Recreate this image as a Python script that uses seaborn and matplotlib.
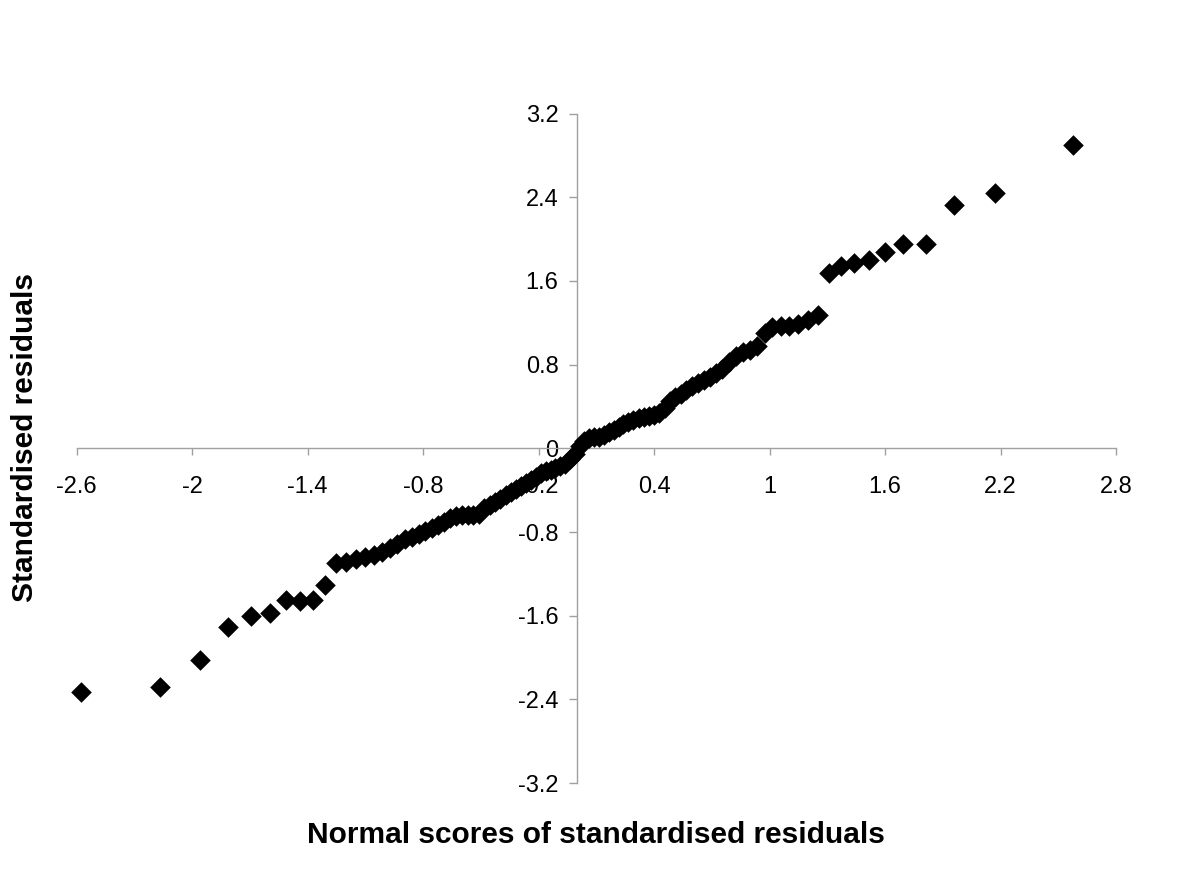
import pandas as pd
import seaborn as sns
import matplotlib.pyplot as plt

sns.set_theme(style="white")
plt.rcParams["font.family"] = ["Liberation Sans", "DejaVu Sans"]
plt.rcParams["text.color"] = "black"
plt.rcParams["xtick.color"] = "black"
plt.rcParams["ytick.color"] = "black"

# ============================
# Data
# ============================

# normal scores (x) for 100 ordered residuals
normal_scores = [
    -2.576, -2.170, -1.960, -1.812, -1.695, -1.598, -1.514, -1.440, -1.372, -1.311,
    -1.254, -1.200, -1.150, -1.103, -1.058, -1.015, -0.974, -0.935, -0.897, -0.860,
    -0.824, -0.789, -0.755, -0.723, -0.690, -0.659, -0.628, -0.598, -0.568, -0.539,
    -0.510, -0.482, -0.454, -0.426, -0.399, -0.372, -0.345, -0.319, -0.292, -0.266,
    -0.240, -0.215, -0.189, -0.164, -0.138, -0.113, -0.088, -0.063, -0.038, -0.013,
    0.013, 0.038, 0.063, 0.088, 0.113, 0.138, 0.164, 0.189, 0.215, 0.240,
    0.266, 0.292, 0.319, 0.345, 0.372, 0.399, 0.426, 0.454, 0.482, 0.510,
    0.539, 0.568, 0.598, 0.628, 0.659, 0.690, 0.723, 0.755, 0.789, 0.824,
    0.860, 0.897, 0.935, 0.974, 1.015, 1.058, 1.103, 1.150, 1.200, 1.254,
    1.311, 1.372, 1.440, 1.514, 1.598, 1.695, 1.812, 1.960, 2.170, 2.576,
]

# standardised residuals (y), sorted
std_residuals = [
    -2.33, -2.28, -2.02, -1.71, -1.60, -1.57, -1.45, -1.46, -1.45, -1.31,
    -1.10, -1.09, -1.06, -1.04, -1.02, -0.99, -0.95, -0.91, -0.87, -0.85,
    -0.82, -0.79, -0.76, -0.73, -0.70, -0.67, -0.65, -0.64, -0.64, -0.64,
    -0.63, -0.57, -0.54, -0.51, -0.48, -0.45, -0.42, -0.39, -0.36, -0.33,
    -0.30, -0.27, -0.24, -0.22, -0.21, -0.19, -0.17, -0.15, -0.10, -0.05,
    0.02, 0.07, 0.10, 0.11, 0.11, 0.13, 0.16, 0.18, 0.20, 0.23,
    0.25, 0.27, 0.29, 0.30, 0.31, 0.32, 0.34, 0.39, 0.45, 0.49,
    0.52, 0.56, 0.60, 0.62, 0.65, 0.68, 0.72, 0.76, 0.83, 0.88,
    0.92, 0.94, 0.98, 1.10, 1.16, 1.17, 1.17, 1.19, 1.23, 1.27,
    1.68, 1.74, 1.77, 1.80, 1.88, 1.95, 1.95, 2.33, 2.44, 2.90,
]

x_ticks = [-2.6, -2.0, -1.4, -0.8, -0.2, 0.4, 1.0, 1.6, 2.2, 2.8]
x_tick_labels = ["-2.6", "-2", "-1.4", "-0.8", "-0.2", "0.4", "1", "1.6", "2.2", "2.8"]
y_ticks = [-3.2, -2.4, -1.6, -0.8, 0.0, 0.8, 1.6, 2.4, 3.2]
y_tick_labels = ["-3.2", "-2.4", "-1.6", "-0.8", "0", "0.8", "1.6", "2.4", "3.2"]

df = pd.DataFrame({"score": normal_scores, "resid": std_residuals})

# ============================
# Plot
# ============================

fig = plt.figure(figsize=(12, 8.8), dpi=100)
ax = fig.add_axes([0.064, 0.110, 0.866, 0.761])

sns.scatterplot(data=df, x="score", y="resid", marker="D", s=110,
                color="black", linewidth=0, zorder=3, clip_on=False, ax=ax)

ax.set_xlim(-2.6, 2.8)
ax.set_ylim(-3.2, 3.2)

# Excel-style crossing axes
axis_grey = "#a0a0a0"
for side in ["top", "right"]:
    ax.spines[side].set_visible(False)
ax.spines["left"].set_position(("data", 0))
ax.spines["bottom"].set_position(("data", 0))
for side in ["left", "bottom"]:
    ax.spines[side].set_color(axis_grey)
    ax.spines[side].set_linewidth(1.0)

ax.set_xticks(x_ticks)
ax.set_xticklabels(x_tick_labels)
ax.set_yticks(y_ticks)
ax.set_yticklabels(y_tick_labels)
ax.tick_params(axis="x", direction="out", length=5, width=1, color=axis_grey,
               labelsize=17, labelcolor="black", pad=15, bottom=True)
ax.tick_params(axis="y", direction="out", length=5.5, width=1, color=axis_grey,
               labelsize=17, labelcolor="black", pad=8, left=True)

ax.set_xlabel("")
ax.set_ylabel("")
ax.grid(False)

fig.text(0.497, 0.051, "Normal scores of standardised residuals",
         ha="center", va="center", fontsize=21.5, fontweight="bold", color="black")
fig.text(0.021, 0.503, "Standardised residuals", rotation=90,
         ha="center", va="center", fontsize=21.5, fontweight="bold", color="black")

plt.savefig("out.png", dpi=100)
plt.close()
